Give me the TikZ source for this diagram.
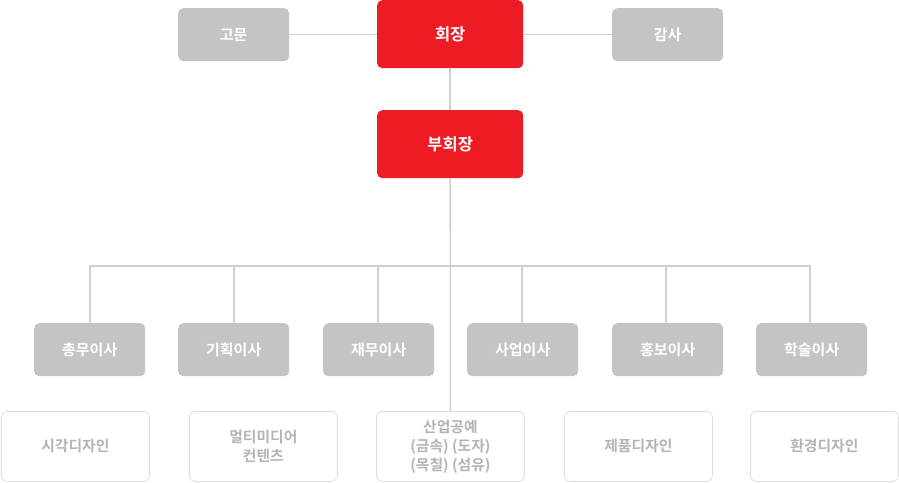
\documentclass[tikz,border=0pt]{standalone}
\usepackage{fontspec}
\setmainfont{Noto Sans CJK KR}[BoldFont={Noto Sans CJK KR Bold}]
\definecolor{redbox}{HTML}{ED1C24}
\definecolor{graybox}{HTML}{C4C4C4}
\definecolor{linegray}{HTML}{D0D0D0}
\definecolor{outlinegray}{HTML}{DDDDDD}
\definecolor{softtext}{HTML}{B4B4B4}
\begin{document}
\begin{tikzpicture}[x=1pt,y=-1pt,
  redbox/.style={fill=redbox,rounded corners=5pt,text=white,font=\bfseries\fontsize{16.5}{18}\selectfont,minimum width=146pt,minimum height=68pt,inner sep=0pt,anchor=north west},
  graybox/.style={fill=graybox,rounded corners=5pt,text=white,font=\bfseries\fontsize{15}{17}\selectfont,minimum width=111pt,minimum height=53pt,inner sep=0pt,anchor=north west},
  softbox/.style={draw=outlinegray,line width=0.8pt,fill=white,rounded corners=6pt,text=softtext,font=\bfseries\fontsize{14.8}{19}\selectfont,align=center,minimum width=148pt,minimum height=70pt,inner sep=0pt,anchor=north west},
  conn/.style={draw=linegray,line width=1.5pt}]
\useasboundingbox (0,0) rectangle (899,482);
\node[redbox] (pres) at (377,0) {회장};
\node[redbox] (vp) at (377,110) {부회장};
\node[graybox] (adv) at (178,8) {고문};
\node[graybox] (aud) at (612,8) {감사};
\node[graybox] (d1) at (34,323) {총무이사};
\node[graybox] (d2) at (178,323) {기획이사};
\node[graybox] (d3) at (323,323) {재무이사};
\node[graybox] (d4) at (467,323) {사업이사};
\node[graybox] (d5) at (612,323) {홍보이사};
\node[graybox] (d6) at (756,323) {학술이사};
\node[softbox] (b1) at (1,411) {시각디자인};
\node[softbox] (b2) at (189,411) {멀티미디어\\컨텐츠};
\node[softbox] (b3) at (376,411) {산업공예\\(금속) (도자)\\(목칠) (섬유)};
\node[softbox] (b4) at (564,411) {제품디자인};
\node[softbox] (b5) at (750,411) {환경디자인};
\coordinate (bus) at (450,266);
\draw[conn] (adv.east) -- (pres.west |- adv.east);
\draw[conn] (aud.west) -- (pres.east |- aud.west);
\draw[conn] (pres.south) -- (vp.north);
\draw[conn] (vp.south) -- (b3.north);
\draw[conn] (d1.north -| 90,0) |- (bus) -| (d6.north -| 810,0);
\draw[conn] (d2.north -| 234,0) -- (234,266);
\draw[conn] (d3.north -| 378,0) -- (378,266);
\draw[conn] (d4.north -| 522,0) -- (522,266);
\draw[conn] (d5.north -| 666,0) -- (666,266);
\end{tikzpicture}
\end{document}
